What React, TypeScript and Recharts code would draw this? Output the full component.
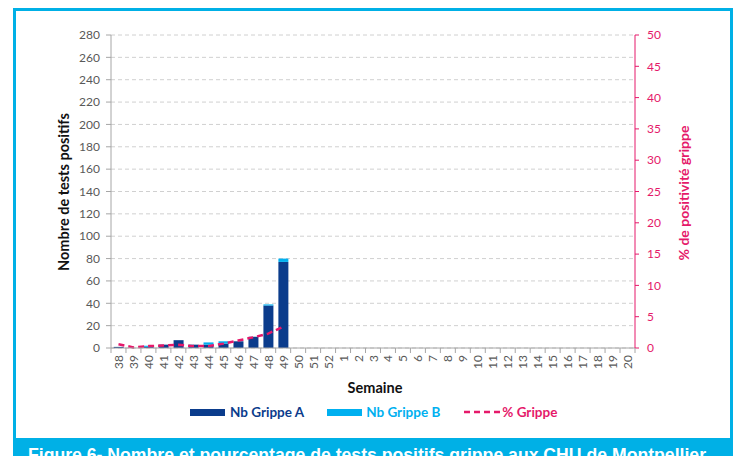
import React from "react";
import {
  ComposedChart,
  Bar,
  Line,
  XAxis,
  YAxis,
  CartesianGrid,
} from "recharts";

// weeks 38..52 then 1..20
const weeks = [
  "38", "39", "40", "41", "42", "43", "44", "45", "46", "47", "48", "49",
  "50", "51", "52", "1", "2", "3", "4", "5", "6", "7", "8", "9", "10",
  "11", "12", "13", "14", "15", "16", "17", "18", "19", "20",
];
const grippeA = [1, 0, 1, 3, 7, 3, 3, 4, 6, 10, 38, 77];
const grippeB = [0, 0, 1, 0, 0, 0, 2, 2, 0, 0, 1, 3];
const pctGrippe = [0.6, 0.1, 0.3, 0.4, 0.5, 0.3, 0.3, 0.7, 1.2, 1.7, 2.3, 3.4];
const leftTicks = [0, 20, 40, 60, 80, 100, 120, 140, 160, 180, 200, 220, 240, 260, 280];
const rightTicks = [0, 5, 10, 15, 20, 25, 30, 35, 40, 45, 50];

const data = weeks.map((w, i) => ({
  week: w,
  a: i < grippeA.length ? grippeA[i] : null,
  b: i < grippeB.length ? grippeB[i] : null,
  pct: i < pctGrippe.length ? pctGrippe[i] : null,
}));

const DARK = "#0B3C8C";
const LIGHT = "#00B0F0";
const PINK = "#E5196A";
const GREY = "#595959";
const FRAME = "#00B0E6";
const FONT = "Lato, 'Open Sans', sans-serif";

const W = 736;
const H = 456;
const PLOT_L = 111;
const PLOT_R = 635;
const CAT_W = (PLOT_R - PLOT_L) / weeks.length;

const WeekTick = (props: any) => {
  const { x, y, payload, index } = props;
  const half = CAT_W / 2;
  return (
    <g>
      <line x1={x - half} x2={x - half} y1={y - 5} y2={y} stroke="#A6A6A6" />
      {index === weeks.length - 1 && (
        <line x1={x + half} x2={x + half} y1={y - 5} y2={y} stroke="#A6A6A6" />
      )}
      <text
        x={x}
        y={y + 2}
        transform={`rotate(-90 ${x} ${y + 2})`}
        textAnchor="end"
        dominantBaseline="central"
        fill={GREY}
        fontSize={12}
        fontFamily={FONT}
      >
        {payload.value}
      </text>
    </g>
  );
};

export default function App() {
  return (
    <div
      style={{
        position: "absolute",
        left: 0,
        top: 0,
        width: W,
        height: H,
        background: "#fff",
        overflow: "hidden",
        fontFamily: FONT,
      }}
    >
      {/* frame */}
      <div
        style={{
          position: "absolute",
          left: 13,
          top: 8,
          width: 733 - 13 - 6,
          height: 460,
          border: `3px solid ${FRAME}`,
        }}
      />
      <ComposedChart
        width={W}
        height={H}
        data={data}
        margin={{ top: 35, right: 41, left: 61, bottom: 78 }}
        barCategoryGap="18%"
        style={{ position: "absolute", left: 0, top: 0 }}
      >
        <CartesianGrid
          vertical={false}
          stroke="#D0D0D0"
          strokeDasharray="4 3"
        />
        <XAxis
          dataKey="week"
          interval={0}
          tickLine={false}
          tickSize={5}
          tickMargin={0}
          axisLine={{ stroke: "#A6A6A6" }}
          height={30}
          tick={<WeekTick />}
        />
        <YAxis
          domain={[0, 280]}
          ticks={leftTicks}
          width={50}
          axisLine={{ stroke: "#A6A6A6" }}
          tickLine={{ stroke: "#A6A6A6" }}
          tickSize={5}
          tickMargin={6}
          interval={0}
          tick={{ fill: GREY, fontSize: 12, fontFamily: FONT }}
        />
        <YAxis
          yAxisId="pct"
          orientation="right"
          domain={[0, 50]}
          ticks={rightTicks}
          width={60}
          axisLine={{ stroke: PINK }}
          tickLine={{ stroke: PINK }}
          tickSize={4}
          tickMargin={8}
          interval={0}
          tick={{ fill: PINK, fontSize: 12, fontFamily: FONT }}
        />
        <Bar dataKey="a" stackId="s" fill={DARK} isAnimationActive={false} />
        <Bar dataKey="b" stackId="s" fill={LIGHT} isAnimationActive={false} />
        <Line
          yAxisId="pct"
          dataKey="pct"
          type="linear"
          stroke={PINK}
          strokeWidth={2.5}
          strokeDasharray="6 4"
          dot={false}
          isAnimationActive={false}
        />
      </ComposedChart>

      {/* axis titles */}
      <div
        style={{
          position: "absolute",
          left: 63,
          top: 192,
          transform: "translate(-50%, -50%) rotate(-90deg)",
          whiteSpace: "nowrap",
          fontWeight: 700,
          fontSize: 14.5,
          color: "#111",
        }}
      >
        Nombre de tests positifs
      </div>
      <div
        style={{
          position: "absolute",
          left: 683,
          top: 193,
          transform: "translate(-50%, -50%) rotate(-90deg)",
          whiteSpace: "nowrap",
          fontWeight: 700,
          fontSize: 14,
          color: PINK,
        }}
      >
        % de positivité grippe
      </div>
      <div
        style={{
          position: "absolute",
          left: 375,
          top: 387,
          transform: "translate(-50%, -50%)",
          whiteSpace: "nowrap",
          fontWeight: 700,
          fontSize: 14.5,
          color: "#111",
        }}
      >
        Semaine
      </div>

      {/* legend */}
      <div style={{ position: "absolute", left: 190, top: 404, height: 16, display: "flex", alignItems: "center", fontSize: 13.5, fontWeight: 700, whiteSpace: "nowrap" }}>
        <span style={{ display: "inline-block", width: 35, height: 7, background: DARK, marginRight: 5 }} />
        <span style={{ color: DARK }}>Nb Grippe A</span>
        <span style={{ display: "inline-block", width: 35, height: 7, background: LIGHT, marginLeft: 23, marginRight: 4 }} />
        <span style={{ color: LIGHT }}>Nb Grippe B</span>
        <svg width={36} height={8} style={{ marginLeft: 24, marginRight: 2 }}>
          <line x1={0} x2={36} y1={4} y2={4} stroke={PINK} strokeWidth={2.5} strokeDasharray="6 4" />
        </svg>
        <span style={{ color: PINK }}>% Grippe</span>
      </div>

      {/* caption banner */}
      <svg
        width={733 - 13}
        height={20}
        style={{ position: "absolute", left: 13, top: 438 }}
      >
        <rect x={0} y={0} width={733 - 13} height={20} fill={FRAME} />
        <text
          x={15}
          y={23}
          fill="#fff"
          fontWeight={700}
          fontSize={19}
          fontFamily="'Liberation Sans', Arial, sans-serif"
          textLength={678}
          lengthAdjust="spacingAndGlyphs"
        >
          Figure 6- Nombre et pourcentage de tests positifs grippe aux CHU de Montpellier
        </text>
      </svg>
    </div>
  );
}
